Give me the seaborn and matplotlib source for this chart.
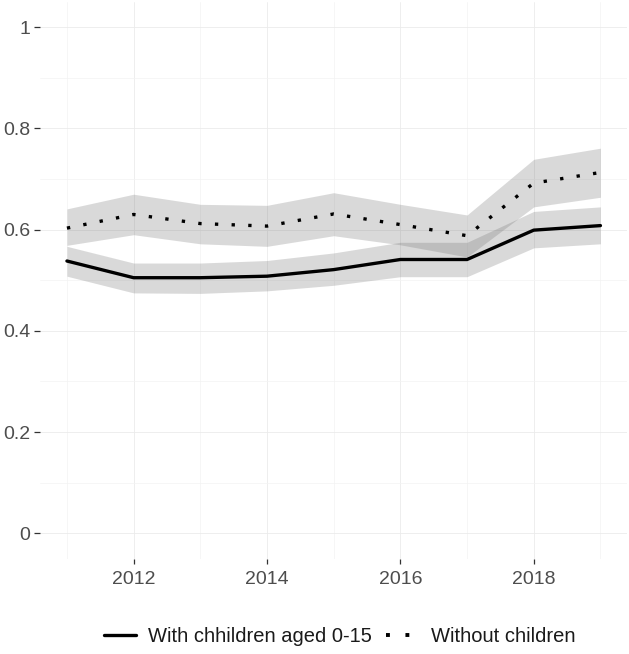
import numpy as np
import pandas as pd
import matplotlib
matplotlib.use("Agg")
import matplotlib.pyplot as plt
import seaborn as sns
from matplotlib.lines import Line2D

# Values
years = [2011, 2012, 2013, 2014, 2015, 2016, 2017, 2018, 2019]

with_kids = [0.538, 0.505, 0.505, 0.508, 0.521, 0.541, 0.541, 0.599, 0.608]
with_kids_lo = [0.508, 0.475, 0.474, 0.479, 0.490, 0.507, 0.507, 0.564, 0.572]
with_kids_hi = [0.567, 0.534, 0.534, 0.539, 0.554, 0.575, 0.575, 0.636, 0.645]

no_kids = [0.603, 0.630, 0.612, 0.607, 0.631, 0.610, 0.588, 0.692, 0.713]
no_kids_lo = [0.569, 0.590, 0.572, 0.567, 0.588, 0.570, 0.546, 0.645, 0.664]
no_kids_hi = [0.641, 0.670, 0.650, 0.648, 0.673, 0.650, 0.629, 0.739, 0.761]

labels = ["With chhildren aged 0-15", "Without children"]

df = pd.DataFrame({
    "year": years * 2,
    "share": with_kids + no_kids,
    "group": [labels[0]] * len(years) + [labels[1]] * len(years),
})

sns.set_style("white")
plt.rcParams["font.family"] = ["Liberation Sans", "DejaVu Sans"]

fig = plt.figure(figsize=(6.29, 6.54), dpi=100)
ax = fig.add_axes([0.064, 0.146, 0.933, 0.851])

# confidence bands
band = dict(color="#6e6e6e", alpha=0.26, linewidth=0)
ax.fill_between(years, with_kids_lo, with_kids_hi, **band)
ax.fill_between(years, no_kids_lo, no_kids_hi, **band)

sns.lineplot(data=df, x="year", y="share", style="group",
             style_order=labels, dashes={labels[0]: "", labels[1]: (1, 4)},
             color="black", linewidth=2.4, legend=False, ax=ax)
for ln in ax.lines:
    ln.set_dash_capstyle("butt")

ax.set_xlim(2010.6, 2019.4)
ax.set_ylim(-0.05, 1.05)
ax.set_xticks([2012, 2014, 2016, 2018])
ax.set_xticks([2011, 2013, 2015, 2017, 2019], minor=True)
ax.set_yticks([0, 0.2, 0.4, 0.6, 0.8, 1])
ax.set_yticklabels(["0", "0.2", "0.4", "0.6", "0.8", "1"])
ax.set_yticks([0.1, 0.3, 0.5, 0.7, 0.9], minor=True)
ax.grid(which="major", color="#ebebeb", linewidth=0.6)
ax.grid(which="minor", color="#f3f3f3", linewidth=0.5)
ax.set_axisbelow(True)
for s in ax.spines.values():
    s.set_visible(False)
ax.tick_params(axis="y", which="major", left=True, length=4.5, width=0.9,
               color="#333333", labelsize=14, labelcolor="#4d4d4d", pad=2.5)
ax.tick_params(axis="x", which="major", bottom=True, length=3.5, width=0.9,
               color="#333333", labelsize=14, labelcolor="#4d4d4d", pad=5.5)
ax.tick_params(which="minor", length=0)
ax.set_xlabel("")
ax.set_ylabel("")

handles = [Line2D([], [], color="black", linewidth=2.4),
           Line2D([], [], color="black", linewidth=2.8, linestyle=(0, (1, 4)),
                  dash_capstyle="butt")]
fig.legend(handles, labels, loc="center", ncol=2, frameon=False,
           bbox_to_anchor=(0.54, 0.027), fontsize=14.5, handlelength=1.6,
           columnspacing=0.7, handletextpad=0.6, labelcolor="#1a1a1a",
           borderpad=0.2)

fig.savefig("out.png", dpi=100)
plt.close(fig)
